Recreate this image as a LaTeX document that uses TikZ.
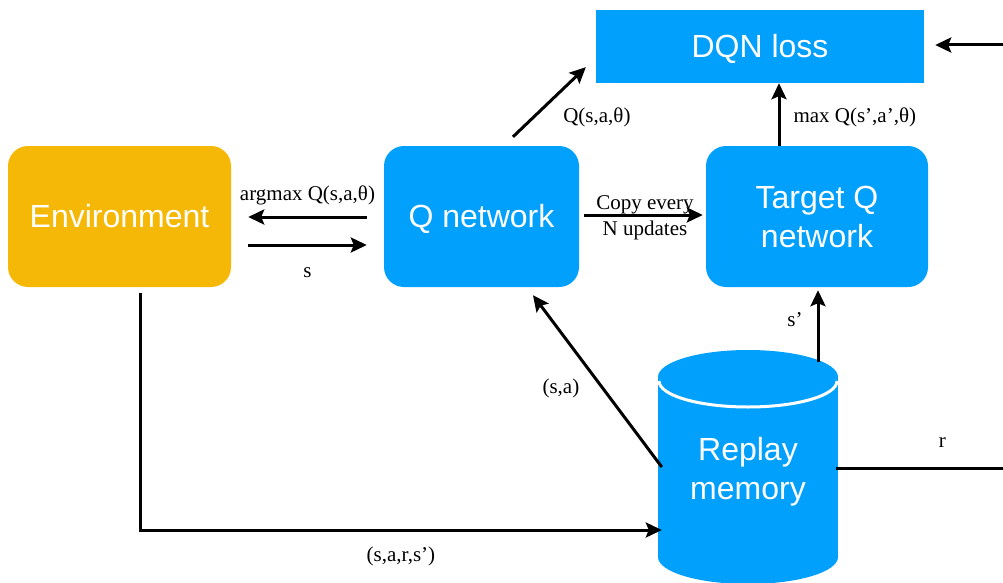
\documentclass[tikz,border=0pt]{standalone}
\usepackage{fontspec}
\setmainfont{Liberation Serif}
\newfontfamily\boxfont{Liberation Sans}
\usetikzlibrary{arrows.meta,calc}
\definecolor{qblue}{RGB}{2,160,253}
\definecolor{envorange}{RGB}{246,184,6}
\begin{document}
\begin{tikzpicture}[x=1pt,y=-1pt,
  box/.style={fill=qblue, text=white, font=\boxfont\fontsize{32}{39}\selectfont, align=center, inner sep=0pt},
  rbox/.style={box, rounded corners=20pt},
  arr/.style={line width=3pt, -{Stealth[length=16pt,width=15pt,inset=3pt]}},
  lbl/.style={font=\fontsize{21}{26}\selectfont, inner sep=0pt, align=center}]
\useasboundingbox (0,0) rectangle (1003,583);
% boxes
\node[rbox, fill=envorange, minimum width=223pt, minimum height=141pt] (env) at (119.5,216.5) {Environment};
\node[rbox, minimum width=195pt, minimum height=141pt] (qnet) at (481.5,216.5) {\smash{Q network}\vphantom{N}};
\node[rbox, minimum width=222pt, minimum height=141pt] (target) at (817,216.5) {Target Q\\network};
\node[box, minimum width=328pt, minimum height=73pt] (dqn) at (760,46.5) {\smash{DQN loss}\vphantom{N}};
% replay memory cylinder
\fill[qblue] (658,377) rectangle (838,557);
\fill[qblue] (748,377) ellipse [x radius=90, y radius=27];
\fill[qblue] (748,557) ellipse [x radius=90, y radius=27];
\draw[white, line width=3pt] (659,381) arc[start angle=180, end angle=0, x radius=89, y radius=26];
\node[box, fill=none, minimum width=180pt, minimum height=234pt] (replay) at (748,472) {Replay\\memory};
% connectors
\draw[arr] ($(qnet.west)+(-17,0.5)$) -- ($(env.east)+(17,0.5)$)
  node[lbl, midway, yshift=22pt] {argmax Q(s,a,θ)};
\draw[arr] ($(env.east)+(17,28.5)$) -- ($(qnet.west)+(-17,28.5)$)
  node[lbl, midway, yshift=-28pt] {s};
\draw[arr] ($(qnet.north)+(31.5,-9)$) -- ($(dqn.south west)+(-10,-16)$)
  node[lbl, midway, xshift=47.5pt, yshift=-15pt] {Q(s,a,θ)};
\draw[arr] ($(qnet.east)+(5,-1.5)$) -- ($(target.west)+(-3,-1.5)$)
  node[lbl, midway, xshift=1.5pt, yshift=-3pt] {Copy every\\N updates};
\coordinate (t5) at ($(target.north)+(-38,0)$);
\draw[arr] (t5) -- (t5 |- dqn.south)
  node[lbl, midway, anchor=west, xshift=13pt, yshift=-2.5pt] {max Q(s’,a’,θ)};
\coordinate (t6) at ($(target.south)+(1,3)$);
\coordinate (rtop) at ($(replay.north)+(70,7)$);
\draw[arr] (rtop) -- (t6)
  node[lbl, midway, anchor=east, xshift=-14pt, yshift=6pt] {s’};
\draw[arr] ($(replay.west)+(4,-5)$) -- ($(qnet.south)+(51.5,8)$)
  node[lbl, midway, xshift=-36.5pt, yshift=-7pt] {(s,a)};
\coordinate (e1) at ($(env.south)+(20.5,6)$);
\coordinate (e2) at ($(replay.west)+(4,58)$);
\draw[arr] (e1) |- (e2)
  node[lbl, pos=0.75, yshift=-26pt] {(s,a,r,s’)};
\draw[arr] ($(replay.east)+(-2,-4)$) -- ++(180,0)
  node[lbl, pos=0.59, yshift=25pt] {r}
  |- ($(dqn.east)+(11,-1.5)$);
\end{tikzpicture}
\end{document}
